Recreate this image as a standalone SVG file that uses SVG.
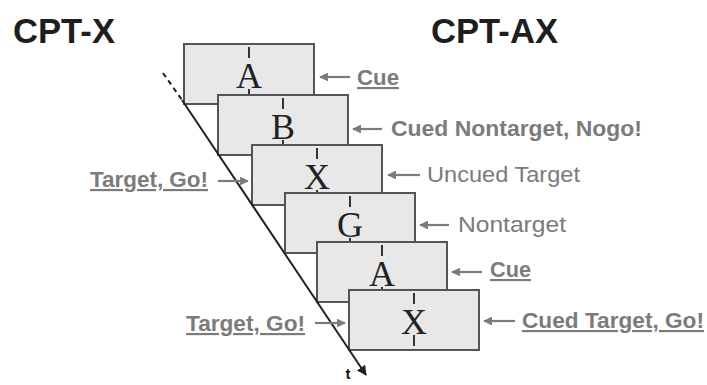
<svg xmlns="http://www.w3.org/2000/svg" width="707" height="385" viewBox="0 0 707 385">
<defs>
<style>
.title{font-family:"Liberation Sans",Arial,sans-serif;font-weight:bold;font-size:35px;fill:#1e1e1e}
.lb{font-family:"Liberation Sans",Arial,sans-serif;font-weight:bold;font-size:21.5px;fill:#7b7b7b}
.lr{font-family:"Liberation Sans",Arial,sans-serif;font-size:21.5px;fill:#7b7b7b}
.u{text-decoration:underline}
.box{fill:#e8e8e8;stroke:#555;stroke-width:2}
.tick{stroke:#333;stroke-width:2}
.let{font-family:"Liberation Serif","Times New Roman",serif;font-size:36px;fill:#222;text-anchor:middle}
.arr{stroke:#7b7b7b;stroke-width:2.2;fill:none;marker-end:url(#ah)}
</style>
<marker id="ah" viewBox="0 0 10 10" refX="9" refY="5" markerWidth="4" markerHeight="4" orient="auto" markerUnits="strokeWidth">
<path d="M0,0 L10,5 L0,10 z" fill="#7b7b7b"/>
</marker>
<marker id="ahk" viewBox="0 0 10 10" refX="9" refY="5" markerWidth="5" markerHeight="5" orient="auto" markerUnits="strokeWidth">
<path d="M0,0 L10,5 L0,10 z" fill="#222"/>
</marker>
</defs>

<text class="title" x="13" y="43" textLength="102" lengthAdjust="spacingAndGlyphs">CPT-X</text>
<text class="title" x="431" y="43" textLength="127" lengthAdjust="spacingAndGlyphs">CPT-AX</text>

<g id="box1">
<rect class="box" x="184" y="44" width="130" height="60"/>
<line class="tick" x1="249" y1="47" x2="249" y2="58"/>
<line class="tick" x1="249" y1="89" x2="249" y2="100"/>
<text class="let" x="249" y="88">A</text>
</g>
<g id="box2">
<rect class="box" x="218" y="95" width="130" height="60"/>
<line class="tick" x1="283" y1="98" x2="283" y2="109"/>
<line class="tick" x1="283" y1="140" x2="283" y2="151"/>
<text class="let" x="283" y="139">B</text>
</g>
<g id="box3">
<rect class="box" x="252" y="145" width="130" height="60"/>
<line class="tick" x1="317" y1="148" x2="317" y2="159"/>
<line class="tick" x1="317" y1="190" x2="317" y2="201"/>
<text class="let" x="317" y="189">X</text>
</g>
<g id="box4">
<rect class="box" x="285" y="193" width="130" height="60"/>
<line class="tick" x1="350" y1="196" x2="350" y2="207"/>
<line class="tick" x1="350" y1="238" x2="350" y2="249"/>
<text class="let" x="350" y="237">G</text>
</g>
<g id="box5">
<rect class="box" x="317" y="242" width="130" height="60"/>
<line class="tick" x1="382" y1="245" x2="382" y2="256"/>
<line class="tick" x1="382" y1="287" x2="382" y2="298"/>
<text class="let" x="382" y="286">A</text>
</g>
<g id="box6">
<rect class="box" x="349" y="290" width="130" height="60"/>
<line class="tick" x1="414" y1="293" x2="414" y2="304"/>
<line class="tick" x1="414" y1="335" x2="414" y2="346"/>
<text class="let" x="414" y="334">X</text>
</g>

<g id="labels">
<text class="lb u" x="357" y="85" textLength="42" lengthAdjust="spacingAndGlyphs">Cue</text>
<text class="lb" x="391" y="136" textLength="251" lengthAdjust="spacingAndGlyphs">Cued Nontarget, Nogo!</text>
<text class="lr" x="427" y="182" textLength="153" lengthAdjust="spacingAndGlyphs">Uncued Target</text>
<text class="lb u" x="90" y="187" textLength="118" lengthAdjust="spacingAndGlyphs">Target, Go!</text>
<text class="lr" x="458" y="232" textLength="108" lengthAdjust="spacingAndGlyphs">Nontarget</text>
<text class="lb u" x="490" y="277" textLength="41" lengthAdjust="spacingAndGlyphs">Cue</text>
<text class="lb u" x="522" y="328" textLength="182" lengthAdjust="spacingAndGlyphs">Cued Target, Go!</text>
<text class="lb u" x="186" y="331" textLength="119" lengthAdjust="spacingAndGlyphs">Target, Go!</text>
<text x="348" y="379" style="font-family:'Liberation Sans',Arial,sans-serif;font-weight:bold;font-size:15px;fill:#111;text-anchor:middle">t</text>
</g>

<g id="connectors">
<line x1="163" y1="73" x2="182" y2="100" stroke="#222" stroke-width="2" stroke-dasharray="5,4"/>
<line x1="182" y1="100" x2="366" y2="375" stroke="#222" stroke-width="2" marker-end="url(#ahk)"/>
<line class="arr" x1="350" y1="77" x2="320" y2="77"/>
<line class="arr" x1="382" y1="129" x2="353" y2="129"/>
<line class="arr" x1="420" y1="175" x2="388" y2="175"/>
<line class="arr" x1="218" y1="181" x2="248" y2="181"/>
<line class="arr" x1="449" y1="225" x2="420" y2="225"/>
<line class="arr" x1="482" y1="272" x2="452" y2="272"/>
<line class="arr" x1="515" y1="321" x2="484" y2="321"/>
<line class="arr" x1="315" y1="323" x2="345" y2="323"/>
</g>
</svg>
